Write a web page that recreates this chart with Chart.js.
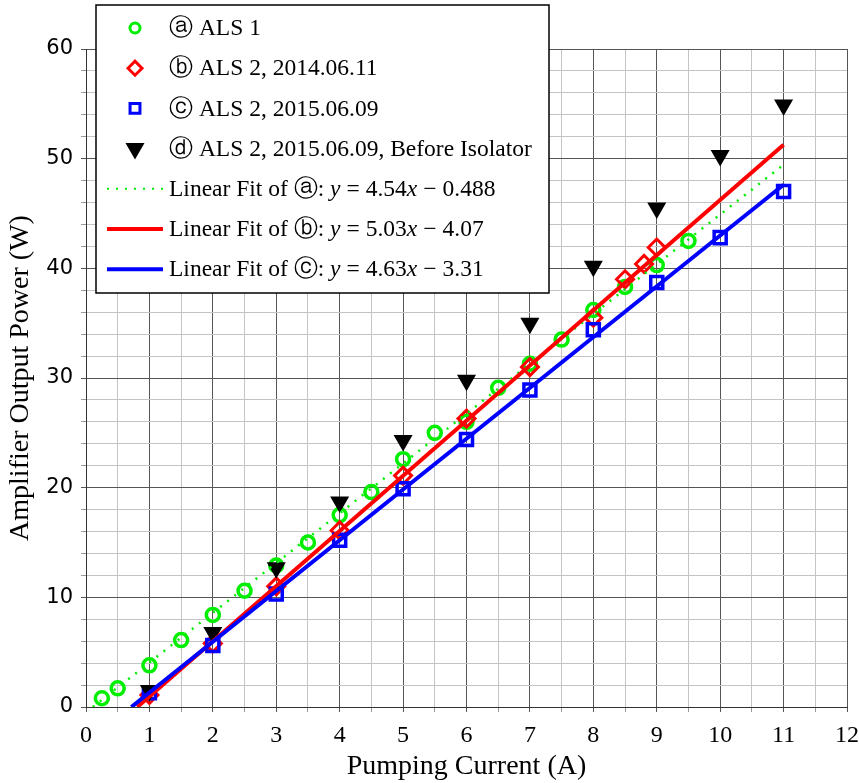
<!DOCTYPE html>
<html>
<head>
<meta charset="utf-8">
<script src="https://cdn.jsdelivr.net/npm/chart.js@4.4.1/dist/chart.umd.min.js"></script>
<style>
  html, body { margin: 0; padding: 0; background: #fff; }
  #wrap { width: 859px; height: 783px; position: relative; }
</style>
</head>
<body>
<div id="wrap"><canvas id="plot" width="859" height="783"></canvas></div>
<script>
// --- data ---
const alsOneX = [0.25, 0.5, 1, 1.5, 2, 2.5, 3, 3.5, 4, 4.5, 5, 5.5, 6, 6.5, 7, 7.5, 8, 8.5, 9, 9.5];
const alsOneY = [0.8, 1.7, 3.8, 6.1, 8.4, 10.6, 12.9, 15.0, 17.5, 19.6, 22.6, 25.0, 26.0, 29.1, 31.3, 33.5, 36.2, 38.3, 40.3, 42.5];

const als2014X = [1, 2, 3, 4, 5, 6, 7, 8, 8.5, 8.8, 9];
const als2014Y = [1.1, 5.8, 11.0, 16.1, 21.1, 26.3, 31.0, 35.5, 39.0, 40.4, 41.9];

const als2015X = [1, 2, 3, 4, 5, 6, 7, 8, 9, 10, 11];
const als2015Y = [1.3, 5.6, 10.3, 15.2, 19.9, 24.4, 28.9, 34.4, 38.7, 42.8, 47.0];

const beforeIsoX = [1, 2, 3, 4, 5, 6, 7, 8, 9, 10, 11];
const beforeIsoY = [1.5, 6.8, 12.7, 18.7, 24.3, 29.8, 35.0, 40.2, 45.5, 50.3, 54.9];

// fit line end points (from the fit equations in the legend)
const fitAX = [0.107, 11], fitAY = [0, 49.45];
const fitBX = [0.809, 11], fitBY = [0, 51.26];
const fitCX = [0.715, 11], fitCY = [0, 47.62];

const xTickLabels = ['0','1','2','3','4','5','6','7','8','9','10','11','12'];
const yTickLabels = ['0','10','20','30','40','50','60'];

const GREEN = '#00ee00', RED = '#ff0000', BLUE = '#0000ff', BLACK = '#000000';
const SERIF = '"Liberation Serif", "DejaVu Serif", serif';

function pts(xs, ys) { return xs.map((x, i) => ({ x: x, y: ys[i] })); }

// legend rows: marker style + text runs  [text, 0 normal | 1 italic | 2 gap(px)]
const eq = (letter, slope, icpt) => [
  ['Linear Fit of ' + letter + ': ', 0], ['y', 1], [6, 2], ['=', 0], [6, 2], [slope, 0], ['x', 1],
  [6, 2], ['−', 0], [6, 2], [icpt, 0]
];
const legendRows = [
  { kind: 'pt', style: 'circle', color: GREEN, radius: 5, rot: 0, fill: false, runs: [['ⓐ ALS 1', 0]] },
  { kind: 'pt', style: 'rectRot', color: RED, radius: 7, rot: 0, fill: false, runs: [['ⓑ ALS 2, 2014.06.11', 0]] },
  { kind: 'pt', style: 'rect', color: BLUE, radius: 7, rot: 0, fill: false, runs: [['ⓒ ALS 2, 2015.06.09', 0]] },
  { kind: 'pt', style: 'triangle', color: BLACK, radius: 8, rot: 180, fill: true,
    runs: [['ⓓ ALS 2, 2015.06.09, Before Isolator', 0]] },
  { kind: 'line', color: GREEN, width: 2, dash: [2, 7], runs: eq('ⓐ', '4.54', '0.488') },
  { kind: 'line', color: RED, width: 4, dash: [], runs: eq('ⓑ', '5.03', '4.07') },
  { kind: 'line', color: BLUE, width: 4, dash: [], runs: eq('ⓒ', '4.63', '3.31') }
];

const boxLegend = {
  id: 'boxLegend',
  afterDraw(chart) {
    const ctx = chart.ctx;
    const bx = 96, by = 5, bw = 453, bh = 288;
    ctx.save();
    ctx.fillStyle = '#fff';
    ctx.fillRect(bx, by, bw, bh);
    ctx.strokeStyle = '#000';
    ctx.lineWidth = 1.5;
    ctx.strokeRect(bx, by, bw, bh);
    legendRows.forEach((row, i) => {
      const cy = 28 + i * 40.2;
      if (row.kind === 'pt') {
        ctx.strokeStyle = row.color;
        ctx.fillStyle = row.fill ? row.color : '#fff';
        ctx.lineWidth = 3;
        ctx.setLineDash([]);
        Chart.helpers.drawPoint(ctx, { pointStyle: row.style, radius: row.radius, rotation: row.rot, borderWidth: 3 }, 135, cy);
      } else {
        ctx.strokeStyle = row.color;
        ctx.lineWidth = row.width;
        ctx.setLineDash(row.dash);
        ctx.beginPath();
        ctx.moveTo(107, cy);
        ctx.lineTo(163, cy);
        ctx.stroke();
        ctx.setLineDash([]);
      }
      let tx = 169;
      ctx.fillStyle = '#000';
      ctx.textBaseline = 'middle';
      row.runs.forEach(([txt, kind]) => {
        if (kind === 2) { tx += txt; return; }
        ctx.font = (kind === 1 ? 'italic ' : '') + '23.5px ' + SERIF;
        ctx.fillText(txt, tx, cy + 1);
        tx += ctx.measureText(txt).width;
      });
    });
    ctx.restore();
  }
};

const markerBase = { showLine: false, pointBorderWidth: 3.5, pointBackgroundColor: 'rgba(255,255,255,0)' };

new Chart(document.getElementById('plot'), {
  type: 'scatter',
  data: {
    datasets: [
      Object.assign({}, markerBase, { label: 'ALS 1', data: pts(alsOneX, alsOneY), order: 6,
        borderColor: GREEN, pointBorderColor: GREEN, pointStyle: 'circle', pointRadius: 6.5 }),
      Object.assign({}, markerBase, { label: 'ALS 2, 2014.06.11', data: pts(als2014X, als2014Y), order: 5,
        borderColor: RED, pointBorderColor: RED, pointStyle: 'rectRot', pointRadius: 8.5, pointBorderWidth: 3 }),
      Object.assign({}, markerBase, { label: 'ALS 2, 2015.06.09', data: pts(als2015X, als2015Y), order: 4,
        borderColor: BLUE, pointBorderColor: BLUE, pointStyle: 'rect', pointRadius: 8.5 }),
      Object.assign({}, markerBase, { label: 'Before Isolator', data: pts(beforeIsoX, beforeIsoY), order: 3,
        borderColor: BLACK, pointBorderColor: BLACK, pointBackgroundColor: BLACK, pointStyle: 'triangle', rotation: 180, pointRadius: 9, pointBorderWidth: 2 }),
      { label: 'Fit a', data: pts(fitAX, fitAY), showLine: true, order: 2, pointRadius: 0,
        borderColor: GREEN, borderWidth: 2.5, borderDash: [2, 7] },
      { label: 'Fit b', data: pts(fitBX, fitBY), showLine: true, order: 1, pointRadius: 0,
        borderColor: RED, borderWidth: 4 },
      { label: 'Fit c', data: pts(fitCX, fitCY), showLine: true, order: 0, pointRadius: 0,
        borderColor: BLUE, borderWidth: 4 }
    ]
  },
  options: {
    responsive: false,
    animation: false,
    events: [],
    layout: { padding: { left: 0, right: 7, top: 49, bottom: 0 } },
    plugins: { legend: { display: false }, tooltip: { enabled: false } },
    scales: {
      x: {
        type: 'linear', min: 0, max: 12,
        afterFit(s) { s.height = 76; s.paddingRight = 9; s.paddingLeft = 0; },
        ticks: {
          stepSize: 0.5, autoSkip: false, maxRotation: 0, padding: 9,
          color: '#000', font: { family: SERIF, size: 24 },
          callback: v => (v % 1 === 0 ? xTickLabels[v] : '')
        },
        grid: {
          color: c => (c.tick && c.tick.value % 1 === 0 ? '#555' : '#c4c4c4'),
          lineWidth: 1, tickLength: 5,
          tickColor: c => (c.tick && c.tick.value % 1 === 0 ? '#555' : '#999')
        },
        border: { display: true, color: '#333', width: 1 },
        title: { display: true, text: 'Pumping Current (A)', color: '#000',
          font: { family: SERIF, size: 28 }, padding: { top: 0, bottom: 0 } }
      },
      y: {
        type: 'linear', min: 0, max: 60,
        afterFit(s) { s.width = 86; },
        ticks: {
          stepSize: 2, autoSkip: false, padding: 8,
          color: '#000', font: { family: '"DejaVu Sans", sans-serif', size: 21 },
          callback: v => (v % 10 === 0 ? yTickLabels[v / 10] : '')
        },
        grid: {
          color: c => (c.tick && c.tick.value % 10 === 0 ? '#555' : '#c4c4c4'),
          lineWidth: 1, tickLength: 5,
          tickColor: c => (c.tick && c.tick.value % 10 === 0 ? '#555' : '#999')
        },
        border: { display: true, color: '#333', width: 1 },
        title: { display: true, text: 'Amplifier Output Power (W)', color: '#000',
          font: { family: SERIF, size: 28 }, padding: { top: 4, bottom: 0 } }
      }
    }
  },
  plugins: [boxLegend]
});
</script>
</body>
</html>
